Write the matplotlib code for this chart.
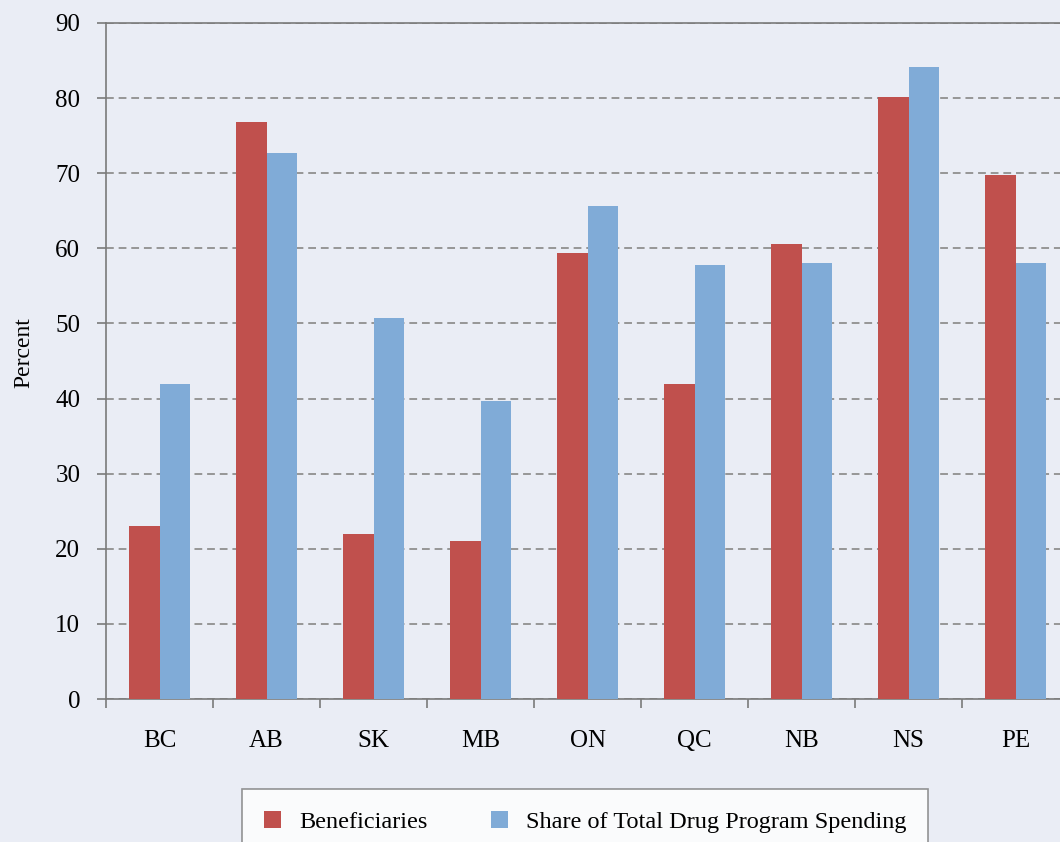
import matplotlib.pyplot as plt
import numpy as np

provinces = ["BC", "AB", "SK", "MB", "ON", "QC", "NB", "NS", "PE"]
beneficiaries = [23.0, 76.8, 22.0, 21.1, 59.4, 42.0, 60.6, 80.2, 69.8]
spending_share = [41.9, 72.7, 50.7, 39.7, 65.7, 57.8, 58.0, 84.2, 58.0]
y_ticks = [0, 10, 20, 30, 40, 50, 60, 70, 80, 90]

bg = "#eaedf5"
red = "#c0504d"
blue = "#80abd7"
axis_grey = "#7a7a7a"

plt.rcParams["font.family"] = ["Liberation Serif", "DejaVu Serif"]

fig = plt.figure(figsize=(10.6, 8.42), dpi=100, facecolor=bg)
# the source picture cuts the plot off on the right, so the axes runs past the edge
ax = fig.add_axes([0.1, 0.1698, 0.9085, 0.8029])
ax.set_facecolor(bg)

x = np.arange(len(provinces))
w = 0.285
ax.bar(x - w / 2, beneficiaries, width=w, color=red, label="Beneficiaries", zorder=3)
ax.bar(x + w / 2, spending_share, width=w, color=blue,
       label="Share of Total Drug Program Spending", zorder=3)

ax.set_xlim(-0.5, len(provinces) - 0.5)
ax.set_ylim(0, 90)

# boundary ticks carry no labels; category names sit on minor ticks at the centres
ax.set_xticks(np.arange(-0.5, len(provinces), 1.0))
ax.set_xticklabels([])
ax.set_xticks(x, minor=True)
ax.set_xticklabels(provinces, minor=True, fontsize=18)
ax.tick_params(axis="x", which="major", length=6.5, width=1.2, color=axis_grey, direction="out")
ax.tick_params(axis="x", which="minor", length=0, pad=22)

ax.set_yticks(y_ticks)
ax.set_yticklabels([str(t) for t in y_ticks], fontsize=18)
ax.tick_params(axis="y", length=6.5, width=1.2, color=axis_grey, pad=12)

ax.yaxis.grid(True, color="#969696", linestyle=(0, (4, 2.5)), linewidth=1.4, zorder=0)
ax.set_axisbelow(True)

for side in ["left", "bottom", "top", "right"]:
    ax.spines[side].set_color(axis_grey)
    ax.spines[side].set_linewidth(1.2)

ax.set_ylabel("Percent", fontsize=17)
ax.yaxis.set_label_coords(-0.074, 0.512)

leg = fig.legend(loc="upper center", bbox_to_anchor=(585 / 1060, 1 - 789 / 842),
                 ncol=2, fontsize=17.5, frameon=True, fancybox=False,
                 handlelength=0.7, handleheight=0.7, handletextpad=0.75,
                 columnspacing=2.6, borderpad=0.9, borderaxespad=0)
leg.get_frame().set_facecolor("white")
leg.get_frame().set_edgecolor(axis_grey)
leg.get_frame().set_linewidth(1.2)

fig.savefig("out.png", dpi=100, facecolor=bg)
